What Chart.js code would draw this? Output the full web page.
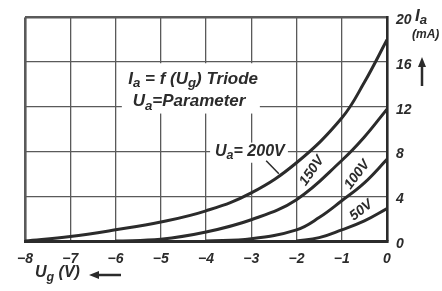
<!DOCTYPE html>
<html>
<head>
<meta charset="utf-8">
<script src="https://cdn.jsdelivr.net/npm/chart.js@4.4.1/dist/chart.umd.min.js"></script>
<style>
  html, body { margin: 0; padding: 0; background: #fff; }
  #wrap { width: 442px; height: 291px; }
</style>
</head>
<body>
<div id="wrap"><canvas id="chart" width="442" height="291"></canvas></div>
<script>
// grid voltage Ug (V) and anode current Ia (mA), one curve per anode voltage
const ug200 = [-8, -7, -6, -5, -4, -3, -2, -1, -0.5, 0]
const ia200 = [0, 0.4, 1.0, 1.7, 2.7, 4.3, 7.0, 11.0, 14.2, 18]
const ug150 = [-6, -5, -4, -3, -2, -1, -0.5, 0]
const ia150 = [0, 0.15, 0.8, 1.9, 3.7, 7.2, 9.3, 11.8]
const ug100 = [-4, -3, -2, -1.5, -1, -0.5, 0]
const ia100 = [0, 0.2, 1.0, 2.1, 3.6, 5.2, 7.3]
const ug50 = [-2, -1.5, -1, -0.5, 0]
const ia50 = [0, 0.3, 1.0, 1.8, 2.9]

const xTicks = [-8, -7, -6, -5, -4, -3, -2, -1, 0]
const yTicks = [0, 4, 8, 12, 16, 20]

const FONT = '"Liberation Sans", "DejaVu Sans", sans-serif'
const INK = '#2b2b2b'
const GRID = '#5a5a5a'

const toPoints = (xs, ys) => xs.map((x, i) => ({ x, y: ys[i] }))

function curve(xs, ys) {
  return {
    data: toPoints(xs, ys),
    borderColor: INK,
    borderWidth: 3,
    pointRadius: 0,
    fill: false,
    tension: 0.4,
  }
}

// draws text with subscript parts: [text, isSub]
function drawRich(ctx, x, y, parts, size) {
  let cx = x
  parts.forEach(([text, sub]) => {
    const s = sub ? size * 0.78 : size
    ctx.font = `italic 600 ${s}px ${FONT}`
    ctx.fillText(text, cx, sub ? y + size * 0.28 : y)
    cx += ctx.measureText(text).width
  })
}

function arrow(ctx, x1, y1, x2, y2) {
  const a = Math.atan2(y2 - y1, x2 - x1)
  ctx.beginPath()
  ctx.moveTo(x1, y1)
  ctx.lineTo(x2 - 7 * Math.cos(a), y2 - 7 * Math.sin(a))
  ctx.lineWidth = 2.5
  ctx.stroke()
  ctx.beginPath()
  ctx.moveTo(x2, y2)
  ctx.lineTo(x2 - 10 * Math.cos(a) + 4 * Math.sin(a), y2 - 10 * Math.sin(a) - 4 * Math.cos(a))
  ctx.lineTo(x2 - 10 * Math.cos(a) - 4 * Math.sin(a), y2 - 10 * Math.sin(a) + 4 * Math.cos(a))
  ctx.closePath()
  ctx.fill()
}

const labelsPlugin = {
  id: 'labels',
  beforeDatasetsDraw(chart) {
    const { ctx, scales } = chart
    const px = (v) => scales.x.getPixelForValue(v)
    const py = (v) => scales.y.getPixelForValue(v)
    ctx.save()
    // white boxes that break the grid behind the text
    ctx.fillStyle = '#fff'
    ctx.fillRect(px(-5.86), py(15.9), px(-2.81) - px(-5.86), py(11.4) - py(15.9))
    ctx.fillRect(px(-3.91), py(8.8), px(-2.19) - px(-3.91), py(7.0) - py(8.8))

    ctx.fillStyle = INK
    ctx.textBaseline = 'middle'
    ctx.textAlign = 'left'
    drawRich(ctx, px(-5.72), py(14.5), [['I', 0], ['a', 1], [' = f (U', 0], ['g', 1], [') Triode', 0]], 17)
    drawRich(ctx, px(-5.62), py(12.5), [['U', 0], ['a', 1], ['=Parameter', 0]], 17)
    drawRich(ctx, px(-3.8), py(8.0), [['U', 0], ['a', 1], ['= 200V', 0]], 16)

    ctx.strokeStyle = INK
    ctx.lineWidth = 1.5
    ctx.beginPath()
    ctx.moveTo(px(-2.67), py(7.17))
    ctx.lineTo(px(-2.39), py(6.02))
    ctx.stroke()

    const rotated = [
      ['150V', -1.66, 6.28, -55],
      ['100V', -0.66, 5.93, -53],
      ['50V', -0.57, 2.74, -38],
    ]
    ctx.font = `italic 600 14px ${FONT}`
    ctx.textAlign = 'center'
    rotated.forEach(([t, x, y, deg]) => {
      ctx.save()
      ctx.translate(px(x), py(y))
      ctx.rotate((deg * Math.PI) / 180)
      ctx.fillText(t, 0, 0)
      ctx.restore()
    })
    ctx.restore()
  },
  afterDraw(chart) {
    const { ctx } = chart
    ctx.save()
    ctx.fillStyle = INK
    ctx.strokeStyle = INK
    ctx.textBaseline = 'middle'
    ctx.textAlign = 'left'
    // y axis title
    drawRich(ctx, 415, 16, [['I', 0], ['a', 1]], 17)
    ctx.font = `italic 600 12px ${FONT}`
    ctx.fillText('(mA)', 412, 35)
    arrow(ctx, 422, 86, 422, 57)
    // x axis title
    drawRich(ctx, 35, 273, [['U', 0], ['g', 1], [' (V)', 0]], 16)
    arrow(ctx, 121, 275, 89, 275)
    ctx.restore()
  },
}

const tickFont = { family: FONT, size: 14, style: 'italic', weight: 600 }

new Chart(document.getElementById('chart').getContext('2d'), {
  type: 'line',
  data: {
    datasets: [curve(ug200, ia200), curve(ug150, ia150), curve(ug100, ia100), curve(ug50, ia50)],
  },
  options: {
    responsive: false,
    animation: false,
    layout: { padding: { left: 25, top: 15, right: 0, bottom: 0 } },
    plugins: { legend: { display: false }, tooltip: { enabled: false } },
    scales: {
      x: {
        type: 'linear',
        position: 'bottom',
        min: -8,
        max: 0,
        afterFit: (scale) => { scale.height = 50 },
        afterBuildTicks: (scale) => { scale.ticks = xTicks.map((value) => ({ value })) },
        ticks: {
          font: tickFont,
          color: INK,
          padding: 10,
          callback: (v) => (v < 0 ? '\u2212' + Math.abs(v) : String(v)),
        },
        grid: {
          color: GRID,
          lineWidth: (c) => (c.tick && c.tick.value === -8 ? 2.6 : 1.3),
          drawTicks: false,
        },
        border: { display: true, color: INK, width: 3 },
      },
      y: {
        position: 'right',
        min: 0,
        max: 20,
        afterFit: (scale) => { scale.width = 55 },
        afterBuildTicks: (scale) => { scale.ticks = yTicks.map((value) => ({ value })) },
        ticks: { font: tickFont, color: INK, padding: 9, labelOffset: 3 },
        grid: {
          color: GRID,
          lineWidth: (c) => (c.tick && c.tick.value === 20 ? 2.6 : 1.3),
          drawTicks: false,
        },
        border: { display: true, color: INK, width: 2.6 },
      },
    },
  },
  plugins: [labelsPlugin],
})
</script>
</body>
</html>
